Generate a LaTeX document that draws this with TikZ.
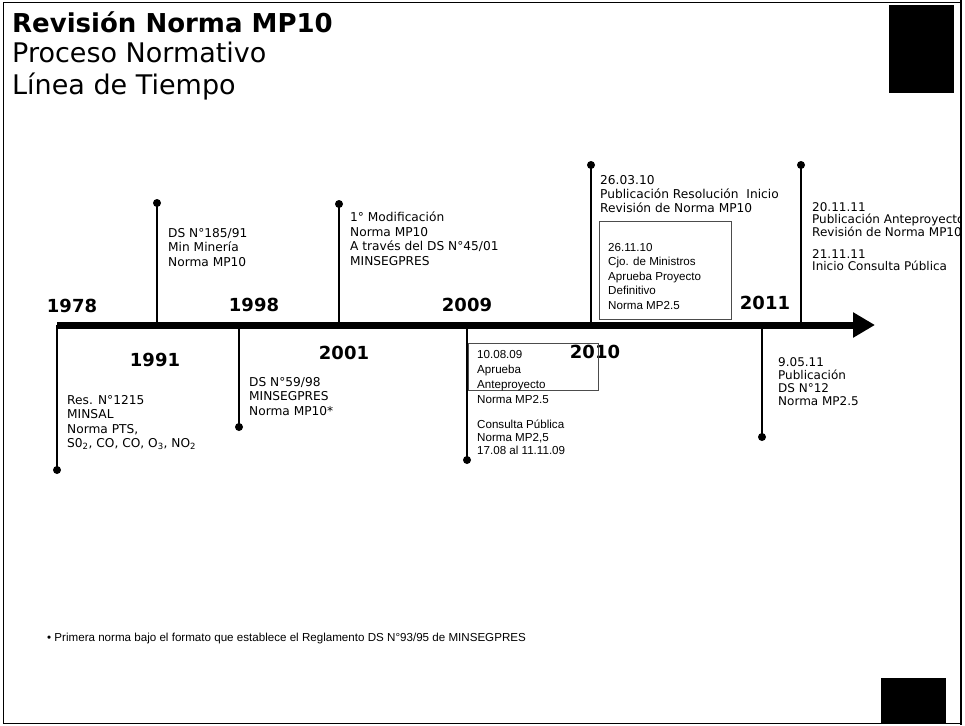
\documentclass[tikz,border=0pt]{standalone}
\usepackage{fontspec}
\setmainfont{DejaVu Sans}
\newfontfamily\arialfont{Liberation Sans}
\usetikzlibrary{arrows.meta}

\begin{document}
\begin{tikzpicture}[
    x=1pt, y=-1pt,
    >={Triangle[length=22pt, width=24pt]},
    year/.style={font=\fontsize{18}{20}\selectfont\bfseries, inner sep=0pt},
    ev/.style={align=left, anchor=north west, inner sep=0pt, font=\fontsize{12.2}{14.5}\selectfont},
    evsmall/.style={align=left, anchor=north west, inner sep=0pt, font=\arialfont\fontsize{11.6}{14.5}\selectfont},
    evdot/.style={circle, fill=black, inner sep=0pt, minimum size=8pt},
    stem/.style={line width=1.6pt},
    infobox/.style={draw=black!70, line width=0.8pt, inner sep=0pt, anchor=north west}
]
\useasboundingbox (0,0) rectangle (965,725);

% Page frame and dark corners
\draw[line width=1pt] (3,3) rectangle (961,723);
\draw[line width=2.5pt] (961,0) -- (961,725);
\fill (889,5) rectangle (954,93);
\fill (881,678) rectangle (946,723);

% Title
\node[anchor=base west, inner sep=0pt, font=\fontsize{26}{30}\selectfont\bfseries] (title) at (12,33) {Revisión Norma MP10};
\node[anchor=base west, inner sep=0pt, font=\fontsize{27}{30}\selectfont] (sub1) at (12,63) {Proceso Normativo};
\node[anchor=base west, inner sep=0pt, font=\fontsize{27}{30}\selectfont] (sub2) at (12,94) {Línea de Tiempo};

% Time axis
\coordinate (axisL) at (57,325);
\coordinate (axisR) at (875,325);
\draw[line width=7pt, ->] (axisL) -- (axisR);

% Years
\node[year] (y1978) at (72,306) {1978};
\node[year] (y1991) at (155,360) {1991};
\node[year] (y1998) at (254,305) {1998};
\node[year] (y2001) at (344,353) {2001};
\node[year] (y2009) at (467,305) {2009};
\node[year] (y2010) at (595,352) {2010};
\node[year] (y2011) at (765,303) {2011};

% 1978
\node[evdot] (d1978) at (57,470) {};
\draw[stem] (axisL) -- (d1978.center);
\node[ev] (e1978) at (67,395) {Res. N°1215\\MINSAL\\Norma PTS,\\S0\textsubscript{2}, CO, CO, O\textsubscript{3}, NO\textsubscript{2}};

% 1991
\coordinate (a1991) at (157,325);
\node[evdot] (d1991) at (157,203) {};
\draw[stem] (a1991) -- (d1991.center);
\node[ev] (e1991) at (168,228) {DS N°185/91\\Min Minería\\Norma MP10};

% 1998
\coordinate (a1998) at (239,325);
\node[evdot] (d1998) at (239,427) {};
\draw[stem] (a1998) -- (d1998.center);
\node[ev] (e1998) at (249,377) {DS N°59/98\\MINSEGPRES\\Norma MP10*};

% 2001
\coordinate (a2001) at (339,325);
\node[evdot] (d2001) at (339,204) {};
\draw[stem] (a2001) -- (d2001.center);
\node[ev] (e2001) at (350,212) {1° Modificación\\Norma MP10\\A través del DS N°45/01\\MINSEGPRES};

% 2009
\coordinate (a2009) at (467,325);
\node[evdot] (d2009) at (467,460) {};
\draw[stem] (a2009) -- (d2009.center);
\node[infobox, minimum width=130pt, minimum height=47pt] (box2009) at (468,343) {};
\node[evsmall, font=\arialfont\fontsize{11.6}{15}\selectfont] (e2009) at (477,350) {10.08.09\\Aprueba\\Anteproyecto\\Norma MP2.5};
\node[evsmall, font=\arialfont\fontsize{11.6}{13}\selectfont] (e2009b) at (477,420) {Consulta Pública\\Norma MP2,5\\17.08 al 11.11.09};

% 2010
\coordinate (a2010) at (591,325);
\node[evdot] (d2010) at (591,165) {};
\draw[stem] (a2010) -- (d2010.center);
\node[ev, font=\fontsize{12.2}{14}\selectfont] (e2010) at (600,175) {26.03.10\\Publicación Resolución~ Inicio\\Revisión de Norma MP10};
\node[infobox, minimum width=132pt, minimum height=98pt] (box2010) at (599,221) {};
\node[evsmall] (e2010b) at (608,243) {26.11.10\\Cjo. de Ministros\\Aprueba Proyecto\\Definitivo\\Norma MP2.5};

% 2011
\coordinate (a2011a) at (762,325);
\node[evdot] (d2011a) at (762,437) {};
\draw[stem] (a2011a) -- (d2011a.center);
\node[ev, font=\fontsize{12}{13}\selectfont] (e2011a) at (778,357) {9.05.11\\Publicación\\DS N°12\\Norma MP2.5};

\coordinate (a2011b) at (801,325);
\node[evdot] (d2011b) at (801,165) {};
\draw[stem] (a2011b) -- (d2011b.center);
\begin{scope}
\clip (0,0) rectangle (959,725);
\node[ev, font=\fontsize{12}{12}\selectfont] (e2011b) at (812,202) {20.11.11\\Publicación Anteproyecto\\Revisión de Norma MP10\\[10pt]21.11.11\\Inicio Consulta Pública};
\end{scope}

% Footnote
\node[anchor=west, inner sep=0pt, font=\arialfont\fontsize{11.6}{12}\selectfont] (note) at (47,638) {• Primera norma bajo el formato que establece el Reglamento DS N°93/95 de MINSEGPRES};

\end{tikzpicture}
\end{document}
